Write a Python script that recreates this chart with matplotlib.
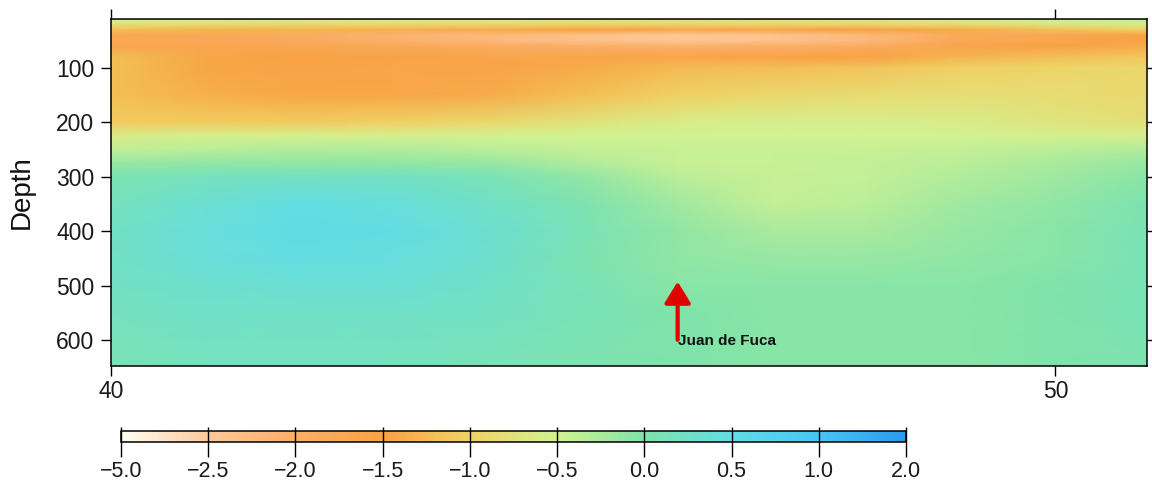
import numpy as np
import matplotlib
matplotlib.use("Agg")
import matplotlib.pyplot as plt
from matplotlib.colors import LinearSegmentedColormap, FuncNorm

# Latitude (deg N) of each section column
lats = [40, 41, 42, 43, 44, 45, 46, 47, 48, 49, 50, 51]

# Depth (m) of each row
depths = [10, 20, 30, 40, 50, 60, 80, 100, 150, 200, 225, 250, 275,
          300, 350, 400, 450, 500, 550, 650]

# Anomaly values, one row per depth, one column per latitude
anomaly = [
    [-0.50, -0.55, -0.60, -0.65, -0.65, -0.70, -0.70, -0.70, -0.70, -0.60, -0.45, -0.35],
    [-0.80, -0.85, -0.90, -0.90, -0.90, -0.95, -0.95, -0.95, -0.90, -0.85, -0.70, -0.60],
    [-1.20, -1.30, -1.30, -1.35, -1.40, -1.50, -1.60, -1.60, -1.50, -1.40, -1.20, -1.00],
    [-1.75, -1.80, -1.90, -2.10, -2.20, -2.35, -2.50, -2.40, -2.20, -1.80, -1.70, -1.50],
    [-1.75, -1.75, -1.85, -2.05, -2.20, -2.35, -2.45, -2.40, -2.20, -1.75, -1.65, -1.50],
    [-1.65, -1.65, -1.70, -1.80, -1.90, -2.00, -2.05, -2.00, -1.90, -1.60, -1.50, -1.40],
    [-1.20, -1.45, -1.50, -1.55, -1.60, -1.60, -1.60, -1.55, -1.50, -1.30, -1.20, -1.10],
    [-1.20, -1.45, -1.55, -1.60, -1.55, -1.40, -1.25, -1.20, -1.15, -1.00, -0.95, -0.90],
    [-1.20, -1.35, -1.45, -1.45, -1.40, -1.20, -1.00, -0.90, -0.85, -0.80, -0.85, -0.90],
    [-1.05, -1.05, -1.05, -1.00, -0.90, -0.75, -0.60, -0.55, -0.55, -0.60, -0.70, -0.80],
    [-0.60, -0.55, -0.55, -0.55, -0.50, -0.50, -0.50, -0.50, -0.50, -0.50, -0.55, -0.55],
    [-0.40, -0.35, -0.30, -0.30, -0.35, -0.40, -0.45, -0.45, -0.45, -0.40, -0.35, -0.30],
    [-0.15, -0.10, -0.10, -0.10, -0.15, -0.30, -0.45, -0.45, -0.40, -0.35, -0.25, -0.15],
    [0.05, 0.15, 0.20, 0.20, 0.10, -0.10, -0.35, -0.45, -0.40, -0.30, -0.20, -0.05],
    [0.15, 0.35, 0.48, 0.40, 0.25, 0.05, -0.20, -0.40, -0.35, -0.20, -0.10, 0.05],
    [0.20, 0.40, 0.50, 0.48, 0.32, 0.10, -0.10, -0.25, -0.25, -0.15, -0.05, 0.10],
    [0.20, 0.38, 0.45, 0.42, 0.30, 0.05, -0.10, -0.15, -0.15, -0.10, -0.05, 0.10],
    [0.20, 0.30, 0.35, 0.35, 0.25, 0.10, -0.05, -0.05, -0.05, -0.05, 0.00, 0.10],
    [0.15, 0.25, 0.25, 0.25, 0.20, 0.10, 0.00, -0.05, -0.05, -0.05, 0.00, 0.10],
    [0.10, 0.15, 0.15, 0.15, 0.10, 0.05, 0.00, -0.05, -0.05, -0.05, 0.00, 0.05],
]

# Colour scale break points and their colours
bounds = [-5.0, -2.5, -2.0, -1.5, -1.0, -0.5, 0.0, 0.5, 1.0, 2.0]
bound_colors = ["#FFFCF2", "#FDC998", "#FBAE66", "#F8A244", "#F0D264",
                "#D2F292", "#80E3AA", "#62DDE6", "#46C6F4", "#2A9CEE"]
bound_labels = ["\u22125.0", "\u22122.5", "\u22122.0", "\u22121.5", "\u22121.0",
                "\u22120.5", "0.0", "0.5", "1.0", "2.0"]

# Marker for Juan de Fuca
jdf_lat = 46.0
jdf_tip_depth = 493
jdf_tail_depth = 600
jdf_label = "Juan de Fuca"

plt.rcParams["font.family"] = ["Liberation Sans", "DejaVu Sans"]

# Break points sit evenly along the colour bar
pos = np.linspace(0.0, 1.0, len(bounds))
cmap = LinearSegmentedColormap.from_list("anom", list(zip(pos, bound_colors)))


def to_unit(v):
    return np.interp(v, bounds, pos)


def from_unit(u):
    return np.interp(u, pos, bounds)


norm = FuncNorm((to_unit, from_unit), vmin=bounds[0], vmax=bounds[-1])

fig = plt.figure(figsize=(11.52, 4.82), dpi=100)
ax = fig.add_axes([111 / 1152, 1 - 366 / 482, 1036 / 1152, 347 / 482])

mesh = ax.pcolormesh(lats, depths, np.array(anomaly), cmap=cmap, norm=norm,
                     shading="gouraud")

ax.set_xlim(40, 50.97)
ax.set_ylim(648, 10)
ax.set_xticks([40, 50])
ax.set_yticks([100, 200, 300, 400, 500, 600])
ax.tick_params(direction="out", length=7, width=1, top=True, right=True,
               labeltop=False, labelright=False, labelsize=16.5,
               labelcolor="#1a1a1a")
ax.tick_params(axis="y", pad=5)
ax.tick_params(axis="x", pad=3)
for sp in ax.spines.values():
    sp.set_linewidth(1.1)

ax.set_ylabel("Depth", fontsize=20, color="#111111")
ax.yaxis.set_label_coords(-0.074, 0.5)

ax.annotate("", xy=(jdf_lat, jdf_tip_depth), xytext=(jdf_lat, jdf_tail_depth),
            arrowprops=dict(arrowstyle="-|>,head_length=0.65,head_width=0.4",
                            mutation_scale=20, color="#E00000", lw=3,
                            shrinkA=0, shrinkB=0))
ax.text(jdf_lat, jdf_tail_depth + 2, jdf_label, fontsize=11,
        fontweight="bold", ha="left", va="center", color="#111111")

cax = fig.add_axes([121 / 1152, 1 - 442 / 482, 785 / 1152, 11 / 482])
cb = fig.colorbar(mesh, cax=cax, orientation="horizontal", ticks=bounds)
cb.ax.set_xticklabels(bound_labels)
cb.ax.tick_params(direction="inout", length=22, width=1, labelsize=15.5,
                  pad=3, labelcolor="#1a1a1a")
cb.outline.set_linewidth(1.1)
cb.ax.minorticks_off()

fig.savefig("out.png", dpi=100)
